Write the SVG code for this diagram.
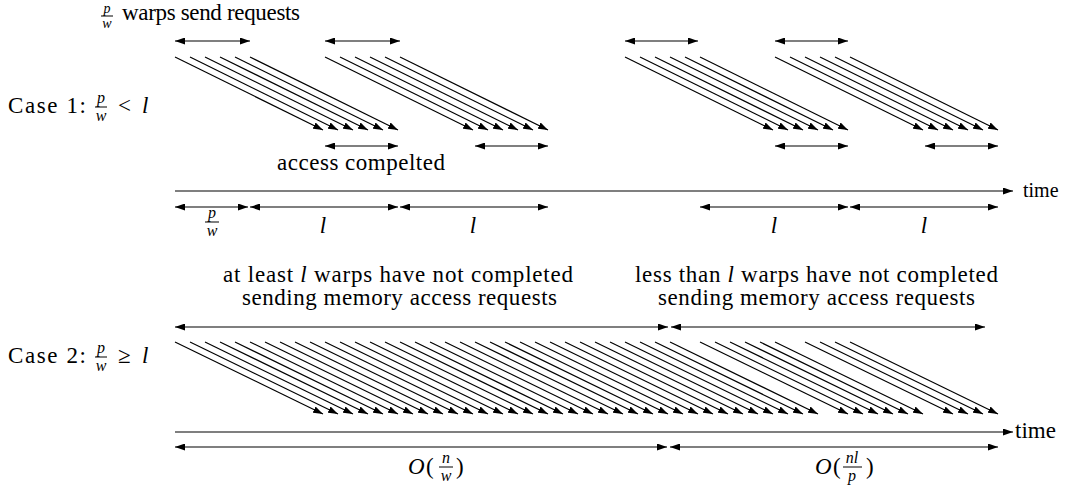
<svg xmlns="http://www.w3.org/2000/svg" width="1073" height="488" viewBox="0 0 1073 488">
<style>
text{font-family:"Liberation Serif","DejaVu Serif","Times New Roman",serif;fill:#000}
.t{font-size:23px}
.m{font-style:italic}
.fr{font-size:16px;font-style:italic}
.ln{stroke:#000;stroke-width:1.2;fill:none}
.a{marker-end:url(#ah)}
.d{marker-start:url(#ah);marker-end:url(#ah)}
.bar{stroke:#000;stroke-width:1}
</style>
<defs>
<marker id="ah" viewBox="0 0 10 7" refX="10" refY="3.5" markerWidth="10" markerHeight="7" markerUnits="userSpaceOnUse" orient="auto-start-reverse">
<path d="M0,0 L10,3.5 L0,7 z" fill="#000"/>
</marker>
</defs>
<g id="labels">
<g id="top-label">
<text x="107" y="13" text-anchor="middle" font-size="14" font-style="italic">p</text>
<line class="bar" x1="101" y1="16" x2="113" y2="16"/>
<text x="107" y="28" text-anchor="middle" font-size="14" font-style="italic">w</text>
<text class="t" x="122" y="20" textLength="178" lengthAdjust="spacing">warps send requests</text>
</g>
<g id="case1-label">
<text class="t" x="8" y="113" textLength="78" lengthAdjust="spacing">Case 1:</text>
<text class="fr" x="101" y="103" text-anchor="middle">p</text>
<line class="bar" x1="95" y1="107" x2="107" y2="107"/>
<text class="fr" x="101" y="121" text-anchor="middle">w</text>
<text class="t" x="118" y="113">&lt;</text>
<text class="t m" x="142" y="113">l</text>
</g>
<g id="case2-label">
<text class="t" x="8" y="363" textLength="78" lengthAdjust="spacing">Case 2:</text>
<text class="fr" x="101" y="353" text-anchor="middle">p</text>
<line class="bar" x1="95" y1="357" x2="107" y2="357"/>
<text class="fr" x="101" y="371" text-anchor="middle">w</text>
<text class="t" x="118" y="363">≥</text>
<text class="t m" x="142" y="363">l</text>
</g>
<g id="access-label"><text class="t" x="277" y="170" textLength="168" lengthAdjust="spacing">access compelted</text></g>
<g id="interval-labels">
<text class="fr" x="212" y="218" text-anchor="middle">p</text>
<line class="bar" x1="205" y1="222" x2="219" y2="222"/>
<text class="fr" x="212" y="236" text-anchor="middle">w</text>
<text class="t m" x="323" y="233" text-anchor="middle">l</text>
<text class="t m" x="473" y="233" text-anchor="middle">l</text>
<text class="t m" x="774" y="233" text-anchor="middle">l</text>
<text class="t m" x="924" y="233" text-anchor="middle">l</text>
</g>
<g id="time1"><text x="1023" y="197" font-size="20">time</text></g>
<g id="case2-text-left">
<text class="t" x="223" y="282" textLength="350" lengthAdjust="spacing">at least <tspan class="m">l</tspan> warps have not completed</text>
<text class="t" x="242" y="305" textLength="315" lengthAdjust="spacing">sending memory access requests</text>
</g>
<g id="case2-text-right">
<text class="t" x="635" y="282" textLength="363" lengthAdjust="spacing">less than <tspan class="m">l</tspan> warps have not completed</text>
<text class="t" x="658" y="305" textLength="317" lengthAdjust="spacing">sending memory access requests</text>
</g>
<g id="time2"><text class="t" x="1015" y="438">time</text></g>
<g id="o-labels">
<text class="t m" x="408" y="474">O</text><text class="t" x="426" y="474">(</text>
<text class="fr" x="446" y="463" text-anchor="middle">n</text>
<line class="bar" x1="439" y1="467" x2="453" y2="467"/>
<text class="fr" x="446" y="481" text-anchor="middle">w</text>
<text class="t" x="456" y="474">)</text>
<text class="t m" x="815" y="474">O</text><text class="t" x="833" y="474">(</text>
<text class="fr" x="852" y="463" text-anchor="middle">nl</text>
<line class="bar" x1="843" y1="467" x2="862" y2="467"/>
<text class="fr" x="852" y="481" text-anchor="middle">p</text>
<text class="t" x="866" y="474">)</text>
</g>
</g>
<g id="connectors">
<g id="case1-top">
<line class="ln d" x1="175" y1="41" x2="250" y2="41"/>
<line class="ln d" x1="325" y1="41" x2="400" y2="41"/>
<line class="ln d" x1="625" y1="41" x2="698" y2="41"/>
<line class="ln d" x1="775" y1="41" x2="848" y2="41"/>
</g>
<g id="case1-diag">
<path class="ln a" d="M175,57L323,130"/><path class="ln a" d="M190,57L338,130"/><path class="ln a" d="M205,57L353,130"/><path class="ln a" d="M220,57L368,130"/><path class="ln a" d="M235,57L383,130"/><path class="ln a" d="M250,57L398,130"/>
<path class="ln a" d="M325,57L473,130"/><path class="ln a" d="M340,57L488,130"/><path class="ln a" d="M355,57L503,130"/><path class="ln a" d="M370,57L518,130"/><path class="ln a" d="M385,57L533,130"/><path class="ln a" d="M400,57L548,130"/>
<path class="ln a" d="M625,57L773,130"/><path class="ln a" d="M640,57L788,130"/><path class="ln a" d="M655,57L803,130"/><path class="ln a" d="M670,57L818,130"/><path class="ln a" d="M685,57L833,130"/><path class="ln a" d="M700,57L848,130"/>
<path class="ln a" d="M775,57L923,130"/><path class="ln a" d="M790,57L938,130"/><path class="ln a" d="M805,57L953,130"/><path class="ln a" d="M820,57L968,130"/><path class="ln a" d="M835,57L983,130"/><path class="ln a" d="M850,57L998,130"/>
</g>
<g id="case1-done">
<line class="ln d" x1="325" y1="146" x2="398" y2="146"/>
<line class="ln d" x1="475" y1="146" x2="548" y2="146"/>
<line class="ln d" x1="775" y1="146" x2="848" y2="146"/>
<line class="ln d" x1="925" y1="146" x2="998" y2="146"/>
</g>
<line class="ln a" x1="175" y1="191" x2="1013" y2="191"/>
<g id="case1-intervals">
<line class="ln d" x1="175" y1="207" x2="248" y2="207"/>
<line class="ln d" x1="250" y1="207" x2="398" y2="207"/>
<line class="ln d" x1="400" y1="207" x2="548" y2="207"/>
<line class="ln d" x1="700" y1="207" x2="848" y2="207"/>
<line class="ln d" x1="850" y1="207" x2="998" y2="207"/>
</g>
<g id="case2-top">
<line class="ln d" x1="175" y1="327" x2="668" y2="327"/>
<line class="ln d" x1="671" y1="327" x2="985" y2="327"/>
</g>
<g id="case2-diag">
<path class="ln a" d="M175,342L323,414"/><path class="ln a" d="M190,342L338,414"/><path class="ln a" d="M205,342L353,414"/><path class="ln a" d="M220,342L368,414"/><path class="ln a" d="M235,342L383,414"/><path class="ln a" d="M250,342L398,414"/><path class="ln a" d="M265,342L413,414"/><path class="ln a" d="M280,342L428,414"/><path class="ln a" d="M295,342L443,414"/><path class="ln a" d="M310,342L458,414"/>
<path class="ln a" d="M325,342L473,414"/><path class="ln a" d="M340,342L488,414"/><path class="ln a" d="M355,342L503,414"/><path class="ln a" d="M370,342L518,414"/><path class="ln a" d="M385,342L533,414"/><path class="ln a" d="M400,342L548,414"/><path class="ln a" d="M415,342L563,414"/><path class="ln a" d="M430,342L578,414"/><path class="ln a" d="M445,342L593,414"/><path class="ln a" d="M460,342L608,414"/>
<path class="ln a" d="M475,342L623,414"/><path class="ln a" d="M490,342L638,414"/><path class="ln a" d="M505,342L653,414"/><path class="ln a" d="M520,342L668,414"/><path class="ln a" d="M535,342L683,414"/><path class="ln a" d="M550,342L698,414"/><path class="ln a" d="M565,342L713,414"/><path class="ln a" d="M580,342L728,414"/><path class="ln a" d="M595,342L743,414"/><path class="ln a" d="M610,342L758,414"/>
<path class="ln a" d="M625,342L773,414"/><path class="ln a" d="M640,342L788,414"/><path class="ln a" d="M655,342L803,414"/><path class="ln a" d="M670,342L818,414"/>
<path class="ln a" d="M700,342L848,414"/><path class="ln a" d="M715,342L863,414"/><path class="ln a" d="M730,342L878,414"/><path class="ln a" d="M745,342L893,414"/><path class="ln a" d="M760,342L908,414"/><path class="ln a" d="M775,342L923,414"/>
<path class="ln a" d="M805,342L953,414"/><path class="ln a" d="M820,342L968,414"/><path class="ln a" d="M835,342L983,414"/><path class="ln a" d="M850,342L998,414"/>
</g>
<line class="ln a" x1="175" y1="432" x2="1013" y2="432"/>
<g id="case2-bottom">
<line class="ln d" x1="175" y1="447" x2="667" y2="447"/>
<line class="ln d" x1="670" y1="447" x2="998" y2="447"/>
</g>
</g>
</svg>
